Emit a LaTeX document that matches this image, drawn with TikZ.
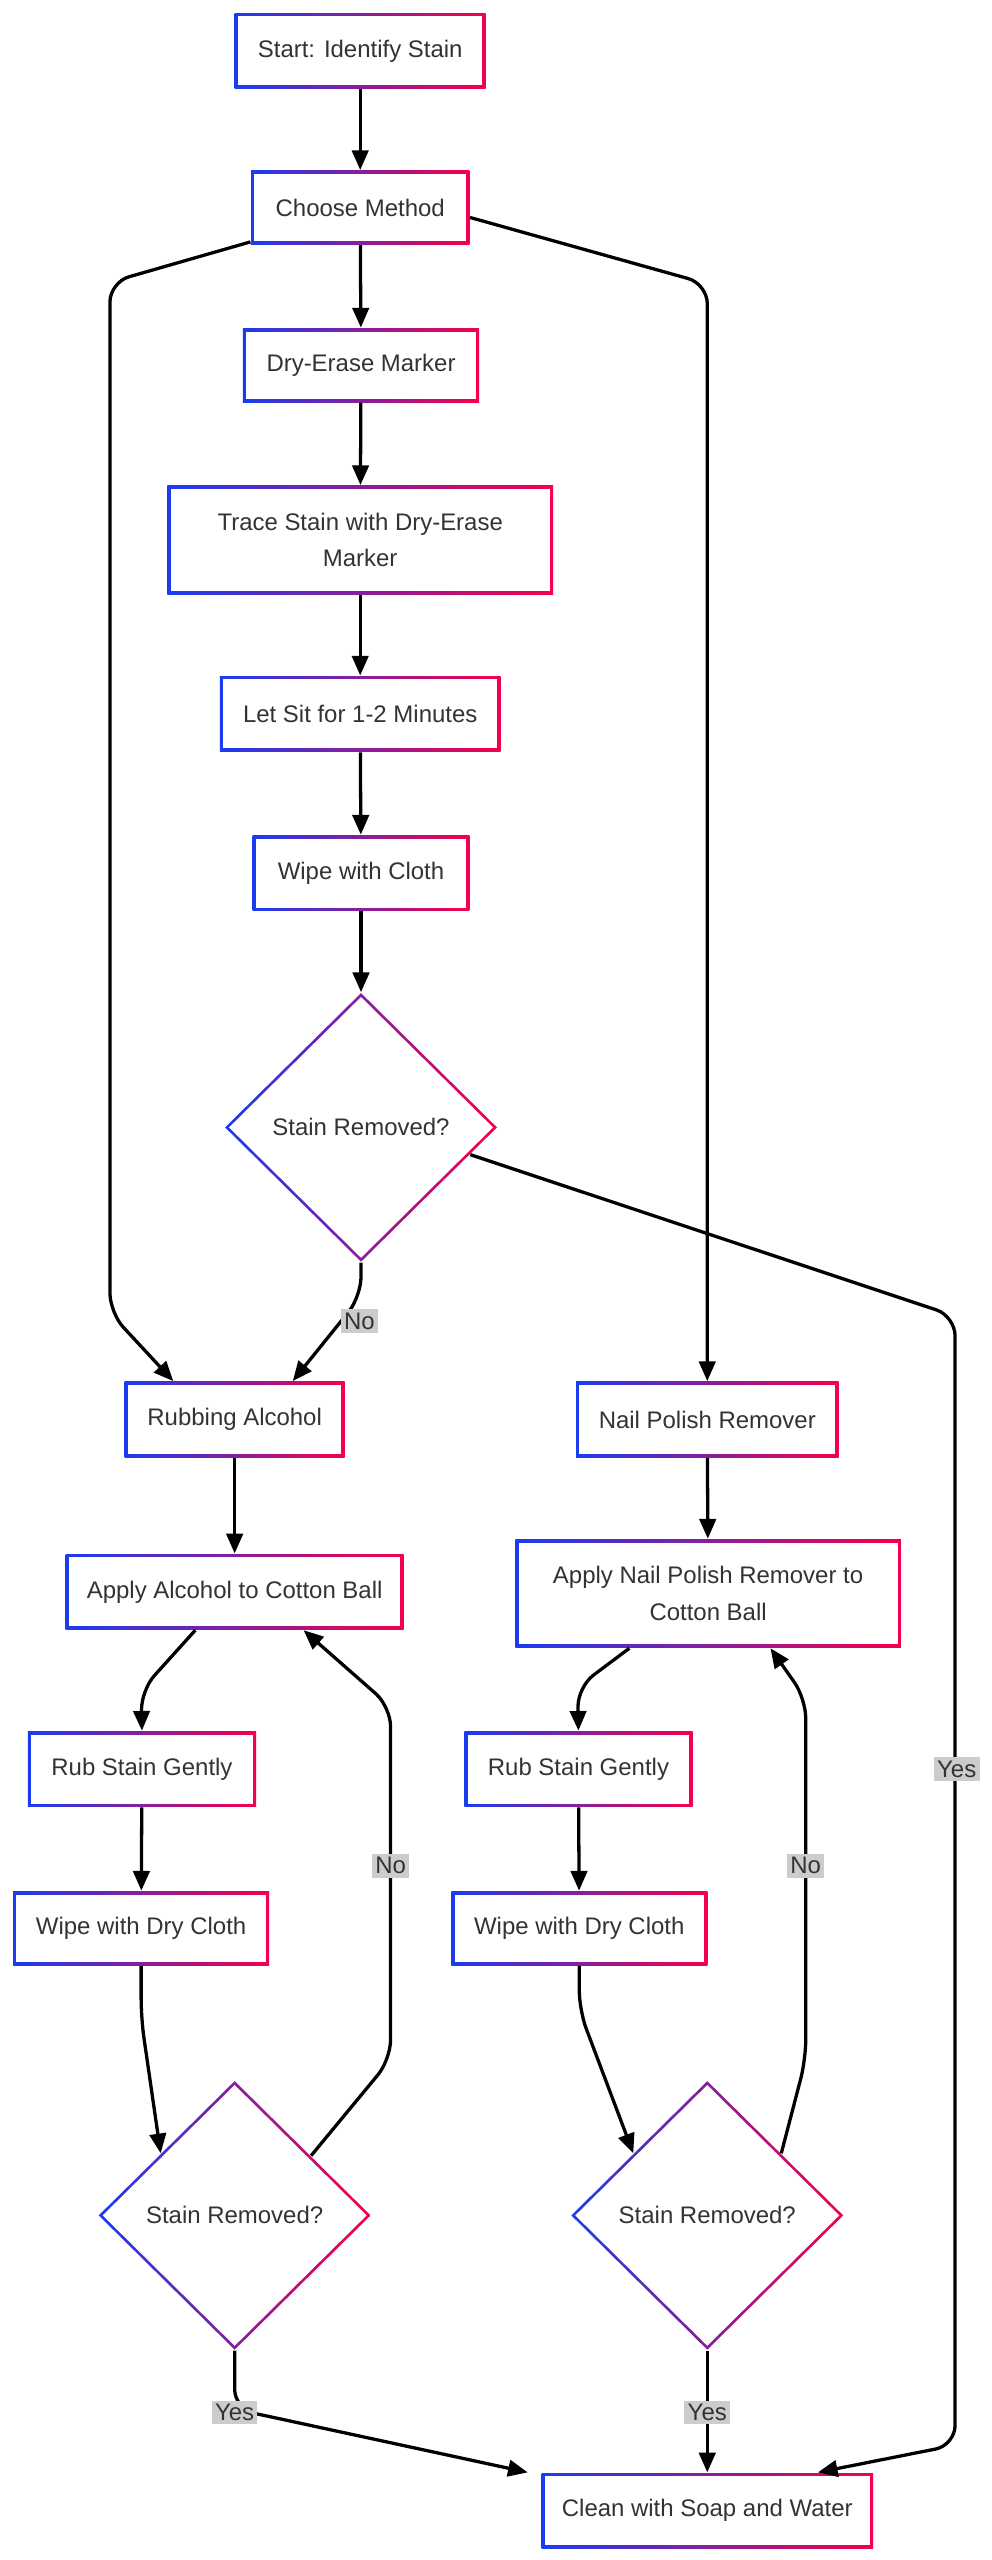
\documentclass[tikz,border=0pt]{standalone}
\usepackage{fontspec}
\setmainfont{Liberation Sans}
\usetikzlibrary{shapes.geometric,arrows.meta}
\definecolor{cb}{HTML}{1A3CF0}
\definecolor{cr}{HTML}{F5004A}
\definecolor{tx}{HTML}{333333}
\newcommand\gb[6]{%
 \node[rectangle,inner sep=0,minimum width=#4,minimum height=#5,left color=cb,right color=cr,draw=none] (#1) at (#2,#3) {};
 \node[rectangle,inner sep=0,fill=white,minimum width=#4-2pt,minimum height=#5-2pt,align=center,text=tx,font=\fontsize{7.3}{11}\selectfont] at (#2,#3) {#6};}
\newcommand\gd[3]{%
 \node[diamond,inner sep=0,minimum width=83pt,minimum height=82pt,left color=cb,right color=cr] (#1) at (#2,#3) {};
 \node[diamond,inner sep=0,fill=white,minimum width=80.6pt,minimum height=79.6pt,text=tx,font=\fontsize{7.3}{11}\selectfont] at (#2,#3) {};
 \node[text=tx,font=\fontsize{7.3}{11}\selectfont] at (#2,#3) {Stain Removed?};}
\tikzset{ar/.style={line width=1pt,-{Triangle[length=6pt,width=5pt]},rounded corners=6pt},
 lb/.style={fill=black!20,inner sep=1pt,text=tx,font=\fontsize{7.3}{9}\selectfont}}
\begin{document}
\begin{tikzpicture}[x=0.5pt,y=-0.5pt]
\useasboundingbox[fill=white] (0,0) rectangle (604,1560);
\gb{s}{219.5}{31}{76.5pt}{23pt}{Start: Identify Stain}
\gb{cm}{219.5}{126.5}{66.5pt}{22.5pt}{Choose Method}
\gb{de}{220}{222.5}{72pt}{22.5pt}{Dry-Erase Marker}
\gb{tr}{219.5}{329}{117.5pt}{33pt}{Trace Stain with Dry-Erase\\Marker}
\gb{ls}{219.5}{435}{85.5pt}{23pt}{Let Sit for 1-2 Minutes}
\gb{wc}{220}{532}{66pt}{23pt}{Wipe with Cloth}
\gd{d1}{220}{687}
\gb{ra}{143}{865}{67pt}{23pt}{Rubbing Alcohol}
\gb{np}{431}{865}{80pt}{23pt}{Nail Polish Remover}
\gb{aa}{143}{970}{103pt}{23pt}{Apply Alcohol to Cotton Ball}
\gb{an}{431.5}{971}{117.5pt}{33pt}{Apply Nail Polish Remover to\\Cotton Ball}
\gb{rl}{86.5}{1078}{69.5pt}{23pt}{Rub Stain Gently}
\gb{rr}{352.5}{1078}{69.5pt}{23pt}{Rub Stain Gently}
\gb{wl}{86}{1175}{78pt}{22.5pt}{Wipe with Dry Cloth}
\gb{wr}{353}{1175}{78pt}{22.5pt}{Wipe with Dry Cloth}
\gd{dl}{143}{1350}
\gd{dr}{431}{1350}
\gb{cl}{431}{1530}{101pt}{23pt}{Clean with Soap and Water}

\draw[ar] (s) -- (cm);
\draw[ar] (cm) -- (de);
\draw[ar] (de) -- (tr);
\draw[ar] (tr) -- (ls);
\draw[ar] (ls) -- (wc);
\draw[ar] (wc) -- (d1);
\draw[ar] ([yshift=1pt]cm.south west) -- (67,172) -- (67,800) -- ([xshift=15pt]ra.north west);
\draw[ar] ([yshift=-3pt]cm.east) -- (431,173) -- (np.north);
\draw[ar] (d1.south) -- (220,790) -- ([xshift=-16pt]ra.north east);
\node[lb] at (219,805) {No};
\draw[ar] (d1.-14) -- (582,802) -- (582,1490) -- ([xshift=-17pt]cl.north east);
\node[lb] at (583,1078) {Yes};
\draw[ar] (ra) -- (aa);
\draw[ar] ([xshift=-12pt]aa.south) -- (86,1030) -- (rl.north);
\draw[ar] (rl) -- (wl);
\draw[ar] (wl.south) -- (86,1230) -- (dl.140);
\draw[ar] (dl.38) -- (238,1255) -- (238,1040) -- ([xshift=21pt]aa.south);
\node[lb] at (238,1137) {No};
\draw[ar] (dl.south) -- (143,1468) -- ([xshift=-4pt]cl.north west);
\node[lb] at (143,1470) {Yes};
\draw[ar] (np) -- (an);
\draw[ar] ([xshift=-24pt]an.south) -- (352,1028) -- (rr.north);
\draw[ar] (wr.south) -- (353,1225) -- (dr.140);
\draw[ar] (dr.40) -- (491,1255) -- (491,1035) -- ([xshift=19pt]an.south);
\node[lb] at (491,1137) {No};
\draw[ar] (dr.south) -- (cl.north);
\node[lb] at (431,1470) {Yes};
\draw[ar] (rr) -- (wr);
\end{tikzpicture}
\end{document}
